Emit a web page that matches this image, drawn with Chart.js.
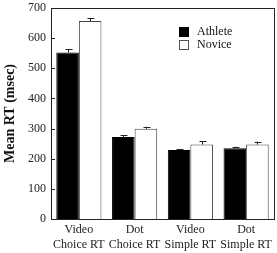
<!DOCTYPE html>
<html><head><meta charset="utf-8">
<script src="https://cdn.jsdelivr.net/npm/chart.js@4.4.0/dist/chart.umd.min.js"></script>
<style>html,body{margin:0;padding:0;background:#fff;}#wrap{width:277px;height:253px;}</style>
</head><body><div id="wrap"><canvas id="c" width="277" height="253"></canvas></div>
<script>
const categories = [["Video","Choice RT"],["Dot","Choice RT"],["Video","Simple RT"],["Dot","Simple RT"]];
const athlete = [552, 272, 229, 235];
const athleteErr = [11, 6, 2, 5];
const novice = [657, 299, 247, 247];
const noviceErr = [9, 7, 11, 10];
const yTicks = [0,100,200,300,400,500,600,700];

const FONT = "'Liberation Serif','Times New Roman',serif";

const errPlugin = {
  id:'err',
  afterDatasetsDraw(chart){
    const ctx = chart.ctx, y = chart.scales.y;
    const errs = [athleteErr, noviceErr];
    ctx.save();
    ctx.strokeStyle = '#222'; ctx.lineWidth = 1;
    chart.data.datasets.forEach((ds,i)=>{
      const meta = chart.getDatasetMeta(i);
      meta.data.forEach((bar,j)=>{
        const v = ds.data[j], e = errs[i][j];
        const x = Math.round(bar.x)+0.5;
        const yt = y.getPixelForValue(v+e), yb = y.getPixelForValue(v);
        ctx.beginPath(); ctx.moveTo(x,yb); ctx.lineTo(x,yt);
        ctx.moveTo(x-3,Math.round(yt)+0.5); ctx.lineTo(x+4,Math.round(yt)+0.5); ctx.stroke();
      });
    });
    const a = chart.chartArea;
    ctx.beginPath();
    y.ticks.forEach(t=>{
      const py = Math.round(y.getPixelForValue(t.value))+0.5;
      ctx.moveTo(a.left, py); ctx.lineTo(a.left+4, py);
    });
    ctx.stroke();
    ctx.strokeStyle='#222';
    ctx.strokeRect(Math.round(a.left)+0.5, Math.round(a.top)+0.5, Math.round(a.right-a.left), Math.round(a.bottom-a.top));
    ctx.font = "12px " + FONT; ctx.textBaseline='middle';
    const items = [['Athlete','#000','#000'],['Novice','#fff','#555']];
    items.forEach((it,k)=>{
      const ly = 27 + k*13;
      ctx.fillStyle = it[1]; ctx.fillRect(179.5, ly+0.5, 9, 9);
      ctx.strokeStyle = it[2]; ctx.strokeRect(179.5, ly+0.5, 9, 9);
      ctx.fillStyle='#111'; ctx.fillText(it[0], 197, ly+5);
    });
    ctx.restore();
  }
};

new Chart(document.getElementById('c'), {
  type:'bar',
  data:{
    labels: categories,
    datasets:[
      {label:'Athlete', data: athlete, backgroundColor:'#000', borderColor:'#000', borderWidth:1},
      {label:'Novice', data: novice, backgroundColor:'#fff', borderColor:'#444', borderWidth:1}
    ]
  },
  options:{
    responsive:false, animation:false,
    layout:{padding:{top:8,right:3,left:2,bottom:0}},
    plugins:{legend:{display:false}, tooltip:{enabled:false}},
    datasets:{bar:{categoryPercentage:0.81, barPercentage:1.0}},
    scales:{
      x:{
        grid:{display:false, drawTicks:false},
        border:{display:false},
        ticks:{color:'#222', font:{family:FONT, size:12}, padding:4, maxRotation:0, autoSkip:false},
        afterFit(s){ s.height = 34; }
      },
      y:{
        min:0, max:700,
        afterBuildTicks(s){ s.ticks = yTicks.map(v=>({value:v})); },
        grid:{display:false, drawTicks:false},
        border:{display:false},
        ticks:{color:'#222', font:{family:FONT, size:12}, padding:5},
        title:{display:true, text:'Mean RT (msec)', color:'#111', font:{family:FONT, size:14, weight:'bold'}, padding:{top:0,bottom:0}},
        afterFit(s){ s.width = 49; s.paddingTop = 0; s.paddingBottom = 0; }
      }
    }
  },
  plugins:[errPlugin]
});
</script></body></html>
